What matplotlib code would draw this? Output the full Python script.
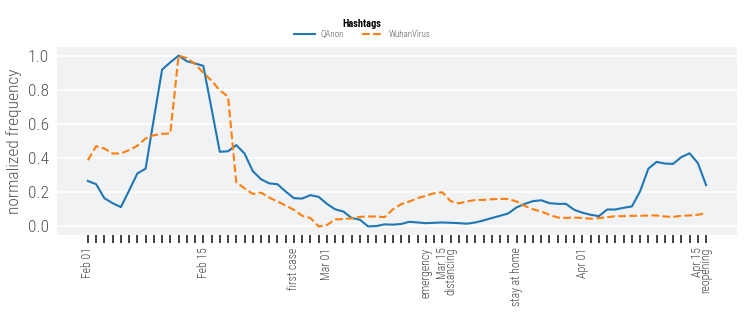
import numpy as np
import pandas as pd
import matplotlib
matplotlib.use("Agg")
from matplotlib import pyplot as plt
from matplotlib import font_manager as fm

# pick a narrow face if one is around, else Roboto
faces = {(f.name, f.stretch) for f in fm.fontManager.ttflist}
names = {n for n, s in faces}
if 'Roboto Condensed' in names:
    plt.rcParams['font.family'] = ['Roboto Condensed', 'DejaVu Sans']
elif ('DejaVu Sans', 'condensed') in faces:
    plt.rcParams['font.family'] = ['DejaVu Sans']
    plt.rcParams['font.stretch'] = 'condensed'
else:
    plt.rcParams['font.family'] = ['Roboto', 'DejaVu Sans']

# daily values, Feb 01 .. Apr 16 2020
dates = pd.date_range("2020-02-01", periods=76, freq="D")
qanon = [0.266, 0.247, 0.165, 0.136, 0.113, 0.21, 0.31, 0.338, 0.63, 0.918,
         0.961, 1.0, 0.967, 0.955, 0.94, 0.69, 0.437, 0.44, 0.476, 0.427,
         0.324, 0.276, 0.252, 0.247, 0.204, 0.165, 0.163, 0.183, 0.173, 0.132,
         0.10, 0.087, 0.049, 0.039, 0.0, 0.002, 0.012, 0.01, 0.014, 0.027,
         0.023, 0.019, 0.021, 0.023, 0.021, 0.019, 0.016, 0.023, 0.035, 0.049,
         0.062, 0.076, 0.111, 0.132, 0.148, 0.153, 0.136, 0.132, 0.132, 0.097,
         0.08, 0.068, 0.06, 0.099, 0.099, 0.109, 0.117, 0.206, 0.338, 0.378,
         0.368, 0.366, 0.406, 0.428, 0.371, 0.242]
wuhan = [0.388, 0.47, 0.456, 0.427, 0.427, 0.447, 0.472, 0.515, 0.534, 0.542,
         0.544, 1.0, 0.986, 0.951, 0.90, 0.854, 0.796, 0.761, 0.258, 0.223,
         0.19, 0.198, 0.169, 0.146, 0.122, 0.097, 0.062, 0.049, 0.0, 0.008,
         0.041, 0.043, 0.047, 0.056, 0.058, 0.058, 0.054, 0.10, 0.13, 0.146,
         0.165, 0.18, 0.194, 0.2, 0.148, 0.135, 0.146, 0.155, 0.155, 0.159,
         0.161, 0.161, 0.146, 0.12, 0.10, 0.087, 0.068, 0.052, 0.05, 0.052,
         0.049, 0.045, 0.049, 0.054, 0.06, 0.06, 0.062, 0.062, 0.064, 0.064,
         0.058, 0.056, 0.062, 0.064, 0.068, 0.078]

# labels on the date axis (dates + events)
event_days = ["2020-02-01", "2020-02-15", "2020-02-26", "2020-03-01", "2020-03-13",
              "2020-03-15", "2020-03-16", "2020-03-24", "2020-04-01", "2020-04-15",
              "2020-04-16"]
event_text = ["Feb 01", "Feb 15", "first case", "Mar 01", "emergency",
              "Mar 15", "distancing", "stay at home", "Apr 01", "Apr 15",
              "reopening"]

x = np.arange(len(dates))
fig = plt.figure(figsize=(7.47, 3.12), dpi=100)
ax = fig.add_axes([0.0763, 0.247, 0.9103, 0.602])
ax.set_facecolor('#f0f2f4')

ax.plot(x, qanon, color='#1f77b4', lw=1.5, label='QAnon')
ax.plot(x, wuhan, color='#ff7f0e', lw=1.5, ls='--', label='WuhanVirus')

ax.set_ylim(-0.05, 1.05)
ax.set_xlim(-3.75, 78.75)
ax.set_yticks([0.0, 0.2, 0.4, 0.6, 0.8, 1.0])
ax.yaxis.grid(True, color='white', lw=1.2)
ax.set_axisbelow(True)
for s in ax.spines.values():
    s.set_visible(False)

lab = [''] * len(dates)
for d, t in zip(event_days, event_text):
    lab[list(dates).index(pd.Timestamp(d))] = t
ax.set_xticks(x)
ax.set_xticklabels(lab, rotation=90, fontsize=8.5, color='#444444', fontweight='light')
ax.tick_params(axis='x', length=5.5, width=1.3, color='#333333', pad=3.5)
ax.tick_params(axis='y', length=0, labelsize=12.5, labelcolor='#555555', pad=6)
for t in ax.get_yticklabels():
    t.set_fontweight('light')
ax.set_ylabel('normalized frequency', fontsize=12.5, color='#555555',
              labelpad=4, fontweight='light')

leg = fig.legend(loc='upper center', bbox_to_anchor=(0.485, 0.955), ncol=2,
                 frameon=False, title='Hashtags', fontsize=6.5,
                 title_fontproperties={'weight': 'bold', 'size': 7.5},
                 handlelength=2.3, columnspacing=2.0, handletextpad=0.6,
                 borderpad=0, labelspacing=0.2)
for t in leg.get_texts():
    t.set_color('#555555')
    t.set_fontweight('light')

fig.savefig('out.png', dpi=100)
